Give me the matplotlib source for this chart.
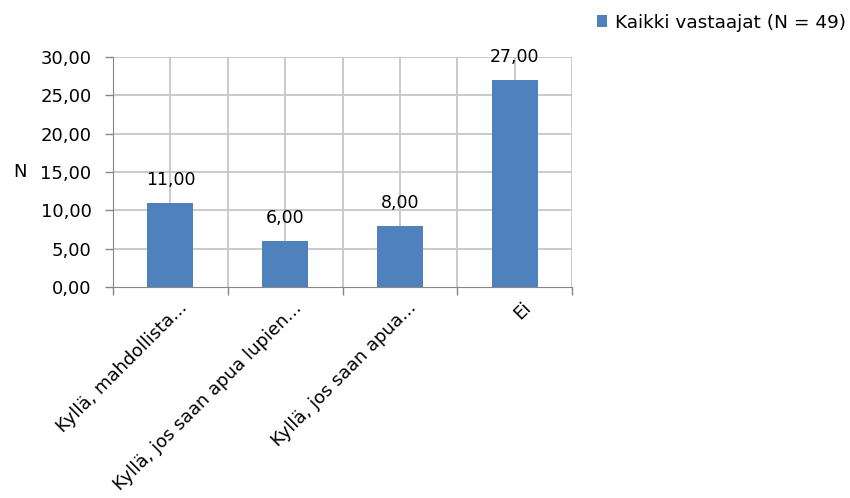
import numpy as np
from matplotlib import pyplot as plt
from matplotlib.ticker import MultipleLocator, FuncFormatter
import matplotlib.transforms as mtransforms

categories = ["Kyllä, mahdollista...", "Kyllä, jos saan apua lupien...",
              "Kyllä, jos saan apua...", "Ei"]
values = [11, 6, 8, 27]
series_name = "Kaikki vastaajat (N = 49)"

plt.rcParams['font.family'] = ['DejaVu Sans']

fig = plt.figure(figsize=(8.5, 4.98), dpi=100)
ax = fig.add_axes([113 / 850, 1 - 287 / 498, (572 - 113) / 850, (287 - 57) / 498])

x = np.arange(len(categories))
bars = ax.bar(x, values, width=0.4, color="#4F81BD", zorder=3, label=series_name)

ax.set_xlim(-0.5, len(categories) - 0.5)
ax.set_ylim(0, 30)
ax.yaxis.set_major_locator(MultipleLocator(5))
ax.yaxis.set_major_formatter(FuncFormatter(lambda v, p: f"{v:.2f}".replace(".", ",")))

# gridlines at category centers and boundaries
for xv in np.arange(-0.5, len(categories), 0.5)[1:]:
    ax.axvline(xv, color="#C6C6C6", lw=1.3, zorder=1)
for yv in range(5, 31, 5):
    ax.axhline(yv, color="#C6C6C6", lw=1.3, zorder=1)

for s in ["top", "right"]:
    ax.spines[s].set_visible(False)
ax.spines["left"].set_color("#868686")
ax.spines["bottom"].set_color("#868686")
ax.spines["bottom"].set_zorder(4)

ax.set_xticks(np.arange(-0.5, len(categories), 1.0))
ax.set_xticklabels([])
ax.tick_params(axis="x", length=5.5, color="#868686", width=1)
ax.tick_params(axis="y", length=5.5, color="#868686", width=1, labelsize=13, pad=10)

off = mtransforms.ScaledTranslation(14 / 100, -18 / 100, fig.dpi_scale_trans)
for xi, lab in zip(x, categories):
    ax.text(xi, 0, lab, rotation=45, ha="right", va="center", rotation_mode="anchor",
            fontsize=13, transform=ax.get_xaxis_transform() + off)

for b, v in zip(bars, values):
    ax.annotate(f"{v:.2f}".replace(".", ","), (b.get_x() + b.get_width() / 2, v),
                xytext=(0, 16.5), textcoords="offset points",
                ha="center", va="center", fontsize=12.5, zorder=5)

fig.text(20 / 850, 1 - 172 / 498, "N", fontsize=13, ha="center", va="center")

fig.legend(handles=[bars], labels=[series_name], loc="center left",
           bbox_to_anchor=(597 / 850, 1 - 22.5 / 498), frameon=False, fontsize=13.3,
           handlelength=0.55, handleheight=0.55, handletextpad=0.4,
           borderpad=0, borderaxespad=0)

fig.savefig("out.png", dpi=100)
